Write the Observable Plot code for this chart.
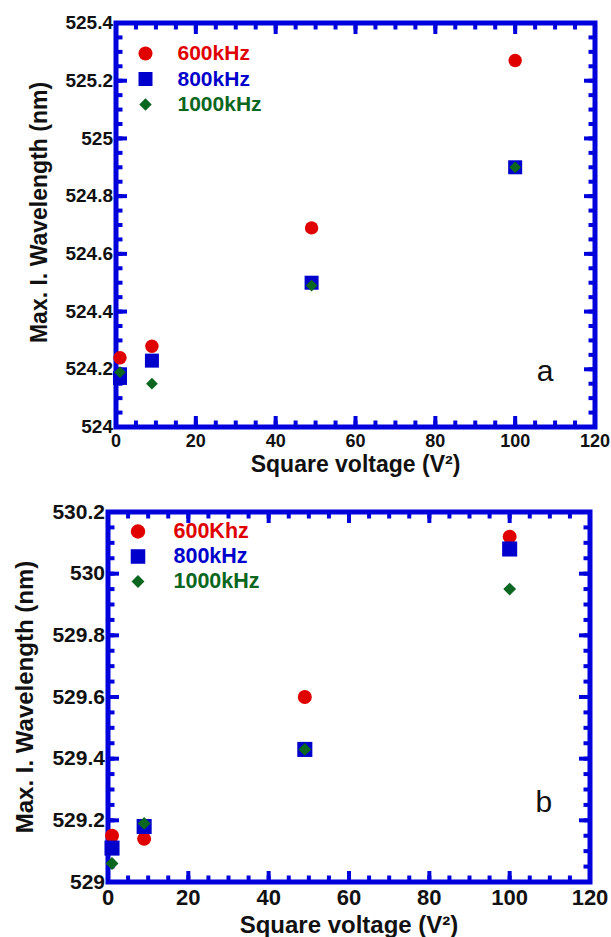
<!DOCTYPE html>
<html><head><meta charset="utf-8">
<script src="https://cdn.jsdelivr.net/npm/d3@7"></script>
<script src="https://cdn.jsdelivr.net/npm/@observablehq/plot@0.6"></script>
<style>
body{margin:0;background:#fff;}
#chart{width:611px;}
#chart svg{display:block;}
</style></head><body><div id="chart"></div>
<script>
// ---- data ----
const voltageSq = [1, 9, 49, 100];

const seriesNamesA = ["600kHz", "800kHz", "1000kHz"];
const a600 = [524.24, 524.28, 524.69, 525.27];
const a800 = [524.17, 524.23, 524.50, 524.90];
const a1000 = [524.19, 524.15, 524.49, 524.90];

const seriesNamesB = ["600Khz", "800kHz", "1000kHz"];
const b600 = [529.15, 529.14, 529.60, 530.12];
const b800 = [529.11, 529.18, 529.43, 530.08];
const b1000 = [529.06, 529.19, 529.43, 529.95];

const xTicks = [0, 20, 40, 60, 80, 100, 120];
const xMinorStep = 5;
const yTicksA = [524, 524.2, 524.4, 524.6, 524.8, 525, 525.2, 525.4];
const yTicksB = [529, 529.2, 529.4, 529.6, 529.8, 530, 530.2];
const yMinorStep = 0.05;

const panelLetters = ["a", "b"];
const letterPosA = {x: 107.5, y: 524.194};
const letterPosB = {x: 108.5, y: 529.257};

const xTitle = "Square voltage (V\u00B2)";
const yTitle = "Max. I. Wavelength (nm)";

// ---- styles ----
const RED = "#e00000", BLUE = "#0000cc", GREEN = "#0b6620", FRAME = "#0000dc";
const symbols = ["circle", "square", "diamond2"];
const colors = [RED, BLUE, GREEN];
const FONT = "'Liberation Sans', Arial, Helvetica, sans-serif";

const tickShape = {draw(context, l) { context.moveTo(0, 0); context.lineTo(0, -l); }};

function minorTicks(lo, hi, step) {
  const n = Math.round((hi - lo) / step);
  return d3.range(n + 1).map(i => +(lo + i * step).toFixed(4));
}

function makePanel(cfg) {
  const rows = cfg.series.map((vals, s) => voltageSq.map((x, i) => ({x, y: vals[i], s})));
  const xMin = minorTicks(0, 120, xMinorStep);
  const yMin = minorTicks(cfg.yDomain[0], cfg.yDomain[1], yMinorStep);
  const tk = (data, opts) => Plot.vector(data, {
    length: opts.len, rotate: opts.rotate, anchor: "start", shape: tickShape,
    stroke: FRAME, strokeWidth: 4, strokeLinecap: "butt", ...opts.pos
  });
  const marks = [
    tk(xMin, {len: 6.5, rotate: 0, pos: {x: d => d, frameAnchor: "bottom"}}),
    tk(xMin, {len: 6.5, rotate: 180, pos: {x: d => d, frameAnchor: "top"}}),
    tk(yMin, {len: 6.5, rotate: 90, pos: {y: d => d, frameAnchor: "left"}}),
    tk(yMin, {len: 6.5, rotate: -90, pos: {y: d => d, frameAnchor: "right"}}),
    tk(xTicks, {len: 11, rotate: 0, pos: {x: d => d, frameAnchor: "bottom"}}),
    tk(xTicks, {len: 11, rotate: 180, pos: {x: d => d, frameAnchor: "top"}}),
    tk(cfg.yTicks, {len: 11, rotate: 90, pos: {y: d => d, frameAnchor: "left"}}),
    tk(cfg.yTicks, {len: 11, rotate: -90, pos: {y: d => d, frameAnchor: "right"}}),
    Plot.frame({stroke: FRAME, strokeWidth: 5}),
    Plot.axisX({ticks: xTicks, tickSize: 0, tickPadding: cfg.xPad, label: null,
      fontSize: cfg.xTickFont, fontWeight: "bold", fill: "#111", tickFormat: d => String(d)}),
    Plot.axisY({ticks: cfg.yTicks, tickSize: 0, tickPadding: cfg.yPad, label: null,
      fontSize: cfg.yTickFont, fontWeight: "bold", fill: "#111", tickFormat: d => String(d)}),
    Plot.text([xTitle], {frameAnchor: "bottom", dy: cfg.xTitleDy, fontSize: cfg.titleFont,
      textAnchor: "middle", lineAnchor: "middle",
      fontWeight: "bold", fill: "#111", text: d => d}),
    Plot.text([yTitle], {frameAnchor: "left", rotate: -90, dx: cfg.yTitleDx, dy: cfg.yTitleDy,
      textAnchor: "middle", lineAnchor: "middle",
      fontSize: cfg.titleFont, fontWeight: "bold", fill: "#111", text: d => d}),
    Plot.text([cfg.letter], {x: cfg.letterPos.x, y: cfg.letterPos.y, text: d => d,
      fontSize: 30, fill: "#111"}),
  ];
  rows.forEach((r, s) => {
    marks.push(Plot.dot(r, {x: "x", y: "y", symbol: symbols[s], r: cfg.r[s], fill: colors[s], stroke: "none"}));
  });
  cfg.names.forEach((name, s) => {
    marks.push(Plot.dot([name], {frameAnchor: "top-left", dx: cfg.legSymDx, dy: cfg.legDy0 + s * cfg.legStep,
      symbol: symbols[s], r: cfg.legR[s], fill: colors[s]}));
    marks.push(Plot.text([name], {frameAnchor: "top-left", dx: cfg.legTextDx, dy: cfg.legDy0 + s * cfg.legStep,
      text: d => d, textAnchor: "start", lineAnchor: "middle",
      fontSize: cfg.legFont, fontWeight: "bold", fill: colors[s]}));
  });
  return Plot.plot({
    width: 611, height: cfg.height,
    marginLeft: cfg.m[3], marginRight: cfg.m[1], marginTop: cfg.m[0], marginBottom: cfg.m[2],
    x: {domain: [0, 120]},
    y: {domain: cfg.yDomain},
    style: {fontFamily: FONT, background: "white", overflow: "visible"},
    marks
  });
}

const panelA = makePanel({
  height: 480, m: [22.5, 16.5, 53.5, 115.5],
  yDomain: [524, 525.4], yTicks: yTicksA,
  series: [a600, a800, a1000], names: seriesNamesA,
  r: [6.7, 7.9, 5.3], legR: [7, 7.9, 5.6],
  xTickFont: 18, yTickFont: 19, xPad: 7, yPad: 3,
  titleFont: 23, xTitleDy: 38, yTitleDx: -76.5, yTitleDy: -12.5,
  letter: panelLetters[0], letterPos: letterPosA,
  legSymDx: 29.5, legTextDx: 61.5, legDy0: 30.5, legStep: 25.5, legFont: 21
});
const panelB = makePanel({
  height: 457, m: [31.5, 21.5, 55.5, 107.5],
  yDomain: [529, 530.2], yTicks: yTicksB,
  series: [b600, b800, b1000], names: seriesNamesB,
  r: [7, 8.5, 5.8], legR: [7.2, 8.2, 5.8],
  xTickFont: 22, yTickFont: 21, xPad: 7, yPad: 3,
  titleFont: 24, xTitleDy: 43, yTitleDx: -83, yTitleDy: 0,
  letter: panelLetters[1], letterPos: letterPosB,
  legSymDx: 30, legTextDx: 65.5, legDy0: 19.5, legStep: 25, legFont: 21.5
});
document.getElementById("chart").append(panelA, panelB);
</script>
</body></html>
